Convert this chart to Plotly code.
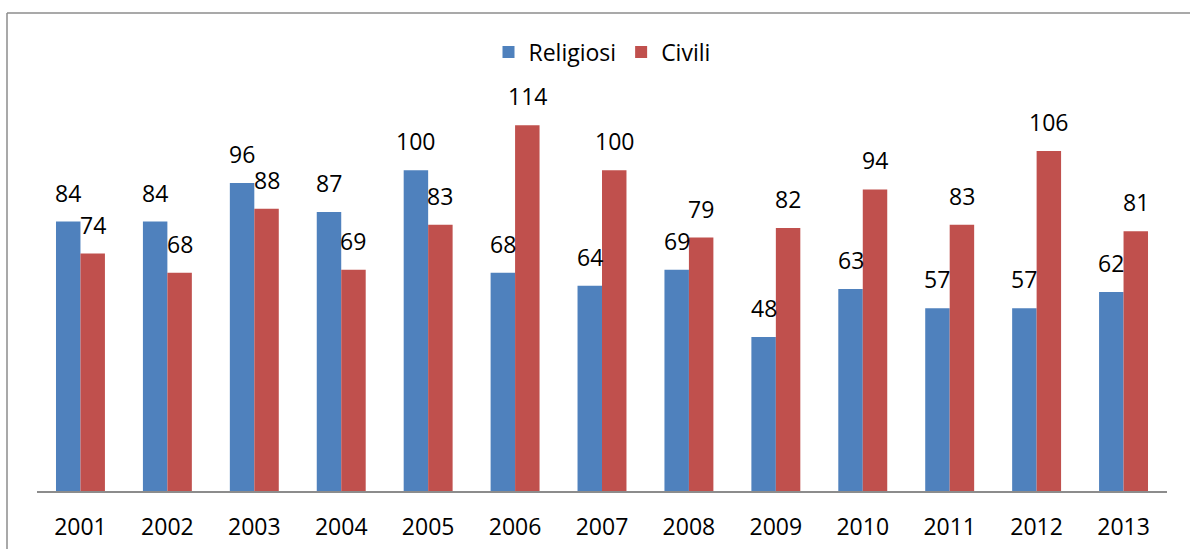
import plotly.graph_objects as go

years = ["2001", "2002", "2003", "2004", "2005", "2006", "2007",
         "2008", "2009", "2010", "2011", "2012", "2013"]
religiosi = [84, 84, 96, 87, 100, 68, 64, 69, 48, 63, 57, 57, 62]
civili = [74, 68, 88, 69, 83, 114, 100, 79, 82, 94, 83, 106, 81]

BLUE = "#4F81BD"
RED = "#C0504D"
FONT = "Open Sans"
FS = 23

W, H = 1190, 549
L, R, T, B = 37, 1167, 106, 491

fig = go.Figure()
fig.add_trace(go.Bar(name="Religiosi", x=years, y=religiosi,
                     marker=dict(color=BLUE, line=dict(width=0))))
fig.add_trace(go.Bar(name="Civili", x=years, y=civili,
                     marker=dict(color=RED, line=dict(width=0))))

bar_px = (R - L) / len(years) * (1 - 0.437) / 2
annotations = []
for i, v in enumerate(religiosi):
    annotations.append(dict(x=i, y=v, xref="x", yref="y", text=str(v),
                            showarrow=False, xshift=-bar_px / 2, yshift=11,
                            yanchor="bottom", font=dict(size=FS, color="black", family=FONT)))
for i, v in enumerate(civili):
    annotations.append(dict(x=i, y=v, xref="x", yref="y", text=str(v),
                            showarrow=False, xshift=bar_px / 2, yshift=11,
                            yanchor="bottom", font=dict(size=FS, color="black", family=FONT)))

pw, ph = R - L, B - T
def px_x(p):
    return (p - L) / pw
def px_y(p):
    return (B - p) / ph

shapes = [
    dict(type="line", xref="paper", yref="paper", x0=px_x(7), x1=px_x(1195),
         y0=px_y(13), y1=px_y(13), line=dict(color="#8C8C8C", width=1.5)),
    dict(type="line", xref="paper", yref="paper", x0=px_x(7), x1=px_x(7),
         y0=px_y(13), y1=px_y(560), line=dict(color="#8C8C8C", width=1.5)),
]

fig.update_layout(
    width=W, height=H,
    margin=dict(l=L, r=W - R, t=T, b=H - B, pad=0, autoexpand=False),
    paper_bgcolor="white", plot_bgcolor="white",
    barmode="group", bargap=0.437, bargroupgap=0,
    font=dict(family=FONT, size=FS, color="black"),
    showlegend=True,
    legend=dict(orientation="h", x=0.5, xanchor="center", y=px_y(52), yanchor="middle",
                font=dict(size=FS, family=FONT), itemwidth=30, traceorder="normal",
                bgcolor="rgba(0,0,0,0)"),
    annotations=annotations,
    shapes=shapes,
    xaxis=dict(type="category", range=[-0.5, len(years) - 0.5], showline=True,
               linecolor="#8C8C8C", linewidth=1.5, ticks="", automargin=False,
               showgrid=False, tickfont=dict(size=FS, family=FONT, color="black"),
               ticklabelstandoff=15),
    yaxis=dict(range=[0, 120], visible=False, showgrid=False, zeroline=False,
               automargin=False),
)

fig.write_html("out.html", config={"displayModeBar": False},
               post_script="document.body.style.margin='0';document.body.style.padding='0';")
